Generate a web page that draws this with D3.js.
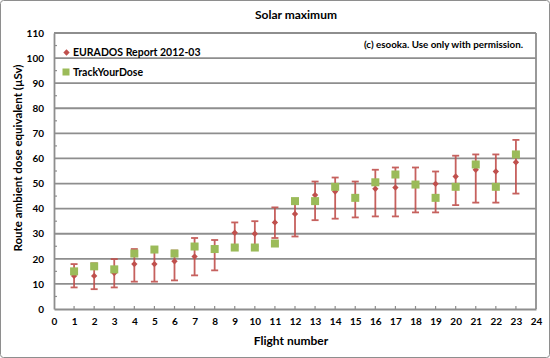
<!DOCTYPE html>
<html>
<head>
<meta charset="utf-8">
<script src="https://cdn.jsdelivr.net/npm/d3@7"></script>
<style>
  html, body { margin: 0; padding: 0; background: #fff; }
  svg { display: block; font-family: Lato, "Open Sans", sans-serif; }
</style>
</head>
<body>
<svg id="chart" width="550" height="358"></svg>
<script>
const flights = d3.range(1, 24);
const eurados = [13.2,13.2,14.3,17.9,17.9,19.0,20.9,23.9,30.4,30.0,34.5,37.9,45.4,46.8,44.0,47.9,48.4,49.7,49.9,52.8,55.5,54.8,58.5];
const euradosUpper = [17.9,18.2,19.9,23.9,24.2,23.3,28.3,27.5,34.5,35.0,40.5,42.5,50.8,52.4,50.8,55.5,56.4,56.4,54.8,61.1,61.6,61.6,67.4];
const euradosLower = [8.6,7.9,8.6,10.9,10.9,11.4,13.4,15.4,25.0,25.0,28.3,28.9,35.4,36.0,36.5,36.9,36.9,38.5,38.5,41.4,42.4,42.4,46.0];
const trackYourDose = [15.0,17.0,15.8,22.1,23.7,22.1,24.9,23.9,24.5,24.5,26.1,43.0,43.0,48.7,44.3,50.5,53.6,49.6,44.3,48.7,57.6,48.7,61.6];
const xTicks = d3.range(0, 25);
const yTicks = d3.range(0, 111, 10);
const yMinorTicks = d3.range(5, 110, 10);
const seriesNames = ["EURADOS Report 2012-03", "TrackYourDose"];

const red = "#c0504d", green = "#9bbb59", grid = "#8e8e8e";
const svg = d3.select("#chart");

// outer chart border
svg.append("rect").attr("x", 0.5).attr("y", 0.5).attr("width", 549).attr("height", 357)
  .attr("rx", 3).attr("fill", "#fff").attr("stroke", "#8e8e8e").attr("stroke-width", 1);

const x = d3.scaleLinear().domain([0, 24]).range([54, 536]);
const y = d3.scaleLinear().domain([0, 110]).range([309, 33]);

// gridlines
svg.append("g").selectAll("line").data(yTicks.filter(d => d > 0)).join("line")
  .attr("x1", x(0)).attr("x2", x(24)).attr("y1", d => y(d)).attr("y2", d => y(d))
  .attr("stroke", grid).attr("stroke-width", 1.8);
// right border of plot
svg.append("line").attr("x1", x(24)).attr("x2", x(24)).attr("y1", y(110)).attr("y2", y(0))
  .attr("stroke", grid).attr("stroke-width", 1.8);

// y axis
const yAxis = svg.append("g").attr("transform", `translate(${x(0)},0)`)
  .call(d3.axisLeft(y).tickValues(yTicks).tickSize(0).tickPadding(10));
yAxis.select(".domain").attr("stroke", grid).attr("stroke-width", 1.8);
yAxis.selectAll("text").attr("font-family", "Lato, sans-serif").attr("font-size", 10)
  .attr("font-weight", "bold").attr("fill", "#000");
svg.append("g").selectAll("line").data(yMinorTicks).join("line")
  .attr("x1", x(0)).attr("x2", x(0) + 3).attr("y1", d => y(d)).attr("y2", d => y(d))
  .attr("stroke", grid).attr("stroke-width", 1.2);

// x axis
const xAxis = svg.append("g").attr("transform", `translate(0,${y(0)})`)
  .call(d3.axisBottom(x).tickValues(xTicks).tickSize(0).tickPadding(9).tickFormat(d3.format("d")));
xAxis.select(".domain").attr("stroke", grid).attr("stroke-width", 1.8);
xAxis.selectAll("text").attr("font-family", "Lato, sans-serif").attr("font-size", 10)
  .attr("font-weight", "bold").attr("fill", "#000");
svg.append("g").selectAll("line").data(xTicks.filter(d => d > 0 && d < 24)).join("line")
  .attr("x1", d => x(d)).attr("x2", d => x(d)).attr("y1", y(0)).attr("y2", y(0) - 3)
  .attr("stroke", grid).attr("stroke-width", 1.2);

// error bars
const eb = svg.append("g").attr("stroke", red).attr("stroke-width", 1.8).attr("opacity", 0.9);
flights.forEach((f, i) => {
  eb.append("line").attr("x1", x(f)).attr("x2", x(f)).attr("y1", y(euradosUpper[i])).attr("y2", y(euradosLower[i]));
  eb.append("line").attr("x1", x(f) - 3.5).attr("x2", x(f) + 3.5).attr("y1", y(euradosUpper[i])).attr("y2", y(euradosUpper[i]));
  eb.append("line").attr("x1", x(f) - 3.5).attr("x2", x(f) + 3.5).attr("y1", y(euradosLower[i])).attr("y2", y(euradosLower[i]));
});

// EURADOS diamonds
svg.append("g").selectAll("path").data(flights).join("path")
  .attr("d", d3.symbol().type(d3.symbolSquare).size(20))
  .attr("transform", (d, i) => `translate(${x(d)},${y(eurados[i])}) rotate(45)`)
  .attr("fill", red);

// TrackYourDose squares
svg.append("g").selectAll("rect").data(flights).join("rect")
  .attr("x", d => x(d) - 4).attr("y", (d, i) => y(trackYourDose[i]) - 4)
  .attr("width", 8).attr("height", 8).attr("fill", green);

// legend
svg.append("path").attr("d", d3.symbol().type(d3.symbolSquare).size(20)())
  .attr("transform", "translate(66.5,52.5) rotate(45)").attr("fill", red);
svg.append("rect").attr("x", 62.5).attr("y", 68.5).attr("width", 7).attr("height", 7).attr("fill", green);
svg.append("text").attr("x", 73).attr("y", 56).text(seriesNames[0])
  .attr("font-size", 10.5).attr("font-weight", "bold");
svg.append("text").attr("x", 73).attr("y", 76).text(seriesNames[1])
  .attr("font-size", 10.5).attr("font-weight", "bold");

// copyright
svg.append("text").attr("x", 523).attr("y", 48).attr("text-anchor", "end")
  .text("(c) esooka. Use only with permission.").attr("font-size", 9.8).attr("font-weight", "bold");

// titles
svg.append("text").attr("x", 296).attr("y", 19).attr("text-anchor", "middle")
  .text("Solar maximum").attr("font-size", 12).attr("font-weight", "bold");
svg.append("text").attr("x", 291).attr("y", 345).attr("text-anchor", "middle")
  .text("Flight number").attr("font-size", 12).attr("font-weight", "bold");
svg.append("text").attr("transform", "translate(22,158) rotate(-90)").attr("text-anchor", "middle")
  .text("Route ambient dose equivalent (µSv)").attr("font-size", 11.5).attr("font-weight", "bold");
</script>
</body>
</html>
